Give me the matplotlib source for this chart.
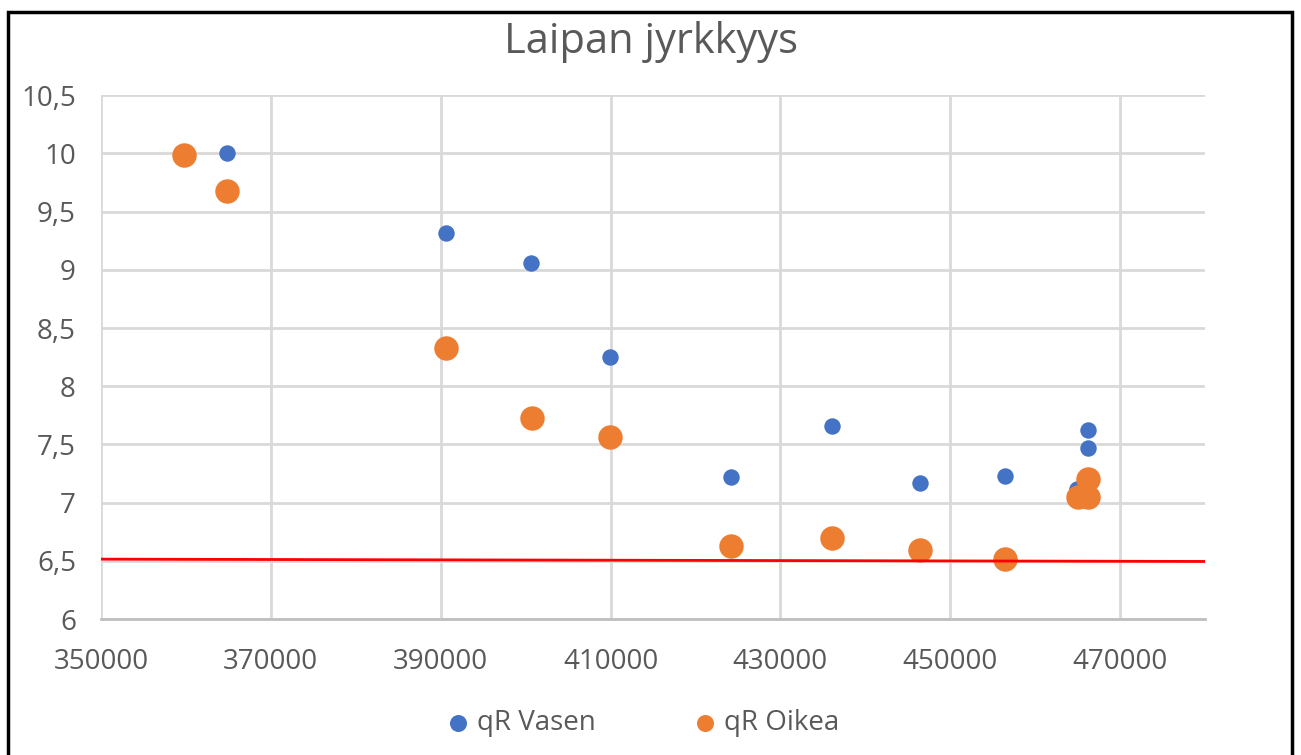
import matplotlib
matplotlib.use("Agg")
import matplotlib.pyplot as plt
from matplotlib.patches import Rectangle

BLUE, ORANGE, RED = "#4472c4", "#ed7d31", "#ff0000"
GRID, TXT = "#d9d9d9", "#595959"

# qR Vasen (left)
x_vasen = [364800, 390600, 400600, 409900, 424200, 436100, 446400, 456500,
           466200, 466200, 464900]
y_vasen = [10.0, 9.32, 9.06, 8.25, 7.22, 7.66, 7.17, 7.23, 7.62, 7.47, 7.12]

# qR Oikea (right)
x_oikea = [359800, 364900, 390600, 400700, 409900, 424200, 436100, 446500,
           456500, 465000, 466200, 466200]
y_oikea = [9.99, 9.68, 8.33, 7.73, 7.56, 6.63, 6.70, 6.59, 6.52, 7.05, 7.20,
           7.05]

# limit line
x_limit = [350000, 480000]
y_limit = [6.515, 6.495]

x_ticks = [350000, 370000, 390000, 410000, 430000, 450000, 470000]
y_ticks = [6, 6.5, 7, 7.5, 8, 8.5, 9, 9.5, 10, 10.5]

plt.rcParams["font.family"] = ["Open Sans", "DejaVu Sans"]

fig = plt.figure(figsize=(13.01, 7.55), dpi=100)
ax = fig.add_axes([0.0776, 0.180, 0.8486, 0.694])

ax.scatter(x_vasen, y_vasen, s=140, color=BLUE, zorder=3, label="qR Vasen",
           linewidths=0)
ax.scatter(x_oikea, y_oikea, s=310, color=ORANGE, zorder=4, label="qR Oikea",
           linewidths=0)
ax.plot(x_limit, y_limit, color=RED, lw=2, zorder=5)

ax.set_xlim(350000, 480000)
ax.set_ylim(6, 10.5)
ax.set_xticks(x_ticks)
ax.set_yticks(y_ticks)
ax.set_yticklabels([f"{v:g}".replace(".", ",") for v in y_ticks])
ax.tick_params(length=0, labelsize=20, colors=TXT)
ax.tick_params(axis="x", pad=21)
ax.tick_params(axis="y", pad=18)

ax.grid(True, color=GRID, lw=2, zorder=0)
ax.set_axisbelow(True)
for side in ["top", "right", "left"]:
    ax.spines[side].set_visible(False)
ax.spines["bottom"].set_color("#bfbfbf")
ax.spines["bottom"].set_linewidth(2)

fig.text(0.5, 0.945, "Laipan jyrkkyys", ha="center", va="center",
         fontsize=30, color=TXT)

fig.legend(loc="center", bbox_to_anchor=(0.488, 0.042), ncol=2, frameon=False,
           fontsize=20, labelcolor=TXT, handletextpad=-0.32, columnspacing=2.95,
           scatterpoints=1)
leg = fig.legends[0]
for h in leg.legend_handles:
    h.set_sizes([150])

# outer frame
fig.patches.append(Rectangle((8 / 1301, -0.01), 1284 / 1301, 0.997 - 10 / 755 + 0.01,
                             transform=fig.transFigure, fill=False,
                             edgecolor="black", lw=2.5))

fig.savefig("out.png", dpi=100)
